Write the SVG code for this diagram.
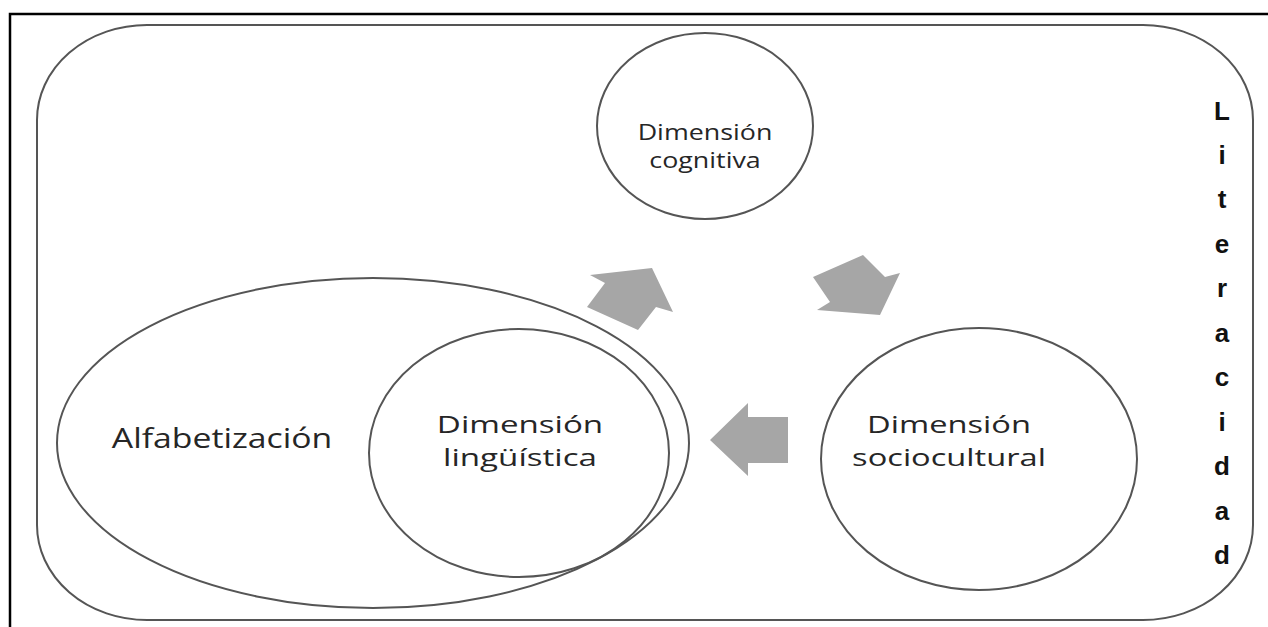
<svg xmlns="http://www.w3.org/2000/svg" width="1268" height="627" viewBox="0 0 1268 627">
<style>
.sh{fill:none;stroke:#555;stroke-width:2}
.ar{fill:#a6a6a6;stroke:none}
.t{font-family:"Open Sans","Liberation Sans",sans-serif;fill:#262626;text-anchor:middle}
.lit{font-family:"Liberation Sans","DejaVu Sans",sans-serif;font-weight:bold;font-size:26px;fill:#111;text-anchor:middle}
</style>
<rect x="0" y="0" width="1268" height="627" fill="#fff"/>
<path d="M10 627 V14 H1268" fill="none" stroke="#000" stroke-width="2.5"/>
<g id="literacidad">
<rect x="37" y="25" width="1216" height="595" rx="110" ry="95" class="sh" stroke="#6a6a6a"/>
<text class="lit" x="1222"><tspan x="1222" y="120">L</tspan><tspan x="1222" y="164">i</tspan><tspan x="1222" y="208">t</tspan><tspan x="1222" y="253">e</tspan><tspan x="1222" y="297">r</tspan><tspan x="1222" y="342">a</tspan><tspan x="1222" y="386">c</tspan><tspan x="1222" y="431">i</tspan><tspan x="1222" y="475">d</tspan><tspan x="1222" y="520">a</tspan><tspan x="1222" y="564">d</tspan></text>
</g>
<g id="alfabetizacion">
<ellipse cx="373" cy="443" rx="316" ry="165" class="sh"/>
<text class="t" font-size="27" transform="translate(222,448) scale(1.25,1)">Alfabetización</text>
</g>
<g id="linguistica">
<ellipse cx="519" cy="453" rx="150" ry="124" class="sh"/>
<g transform="translate(520,0) scale(1.38,1)">
<text class="t" font-size="24" x="0" y="433">Dimensión</text>
<text class="t" font-size="24" x="0" y="466">lingüística</text>
</g>
</g>
<g id="cognitiva">
<ellipse cx="705" cy="126" rx="108" ry="93" class="sh"/>
<g transform="translate(705,0) scale(1.22,1)">
<text class="t" font-size="22" x="0" y="140">Dimensión</text>
<text class="t" font-size="22" x="0" y="168">cognitiva</text>
</g>
</g>
<g id="sociocultural">
<ellipse cx="979" cy="459" rx="158" ry="131" class="sh"/>
<g transform="translate(949,0) scale(1.36,1)">
<text class="t" font-size="24" x="0" y="433">Dimensión</text>
<text class="t" font-size="24" x="0" y="466">sociocultural</text>
</g>
</g>
<g id="connectors">
<polygon class="ar" points="590,275 652,268 673,312 656,307 638,330 587,307 605,283"/>
<polygon class="ar" points="813,277 863,255 885,277 900,273 880,315 817,310 830,302"/>
<polygon class="ar" points="710,440 748,403 748,417 788,417 788,463 748,463 748,476"/>
</g>
</svg>
